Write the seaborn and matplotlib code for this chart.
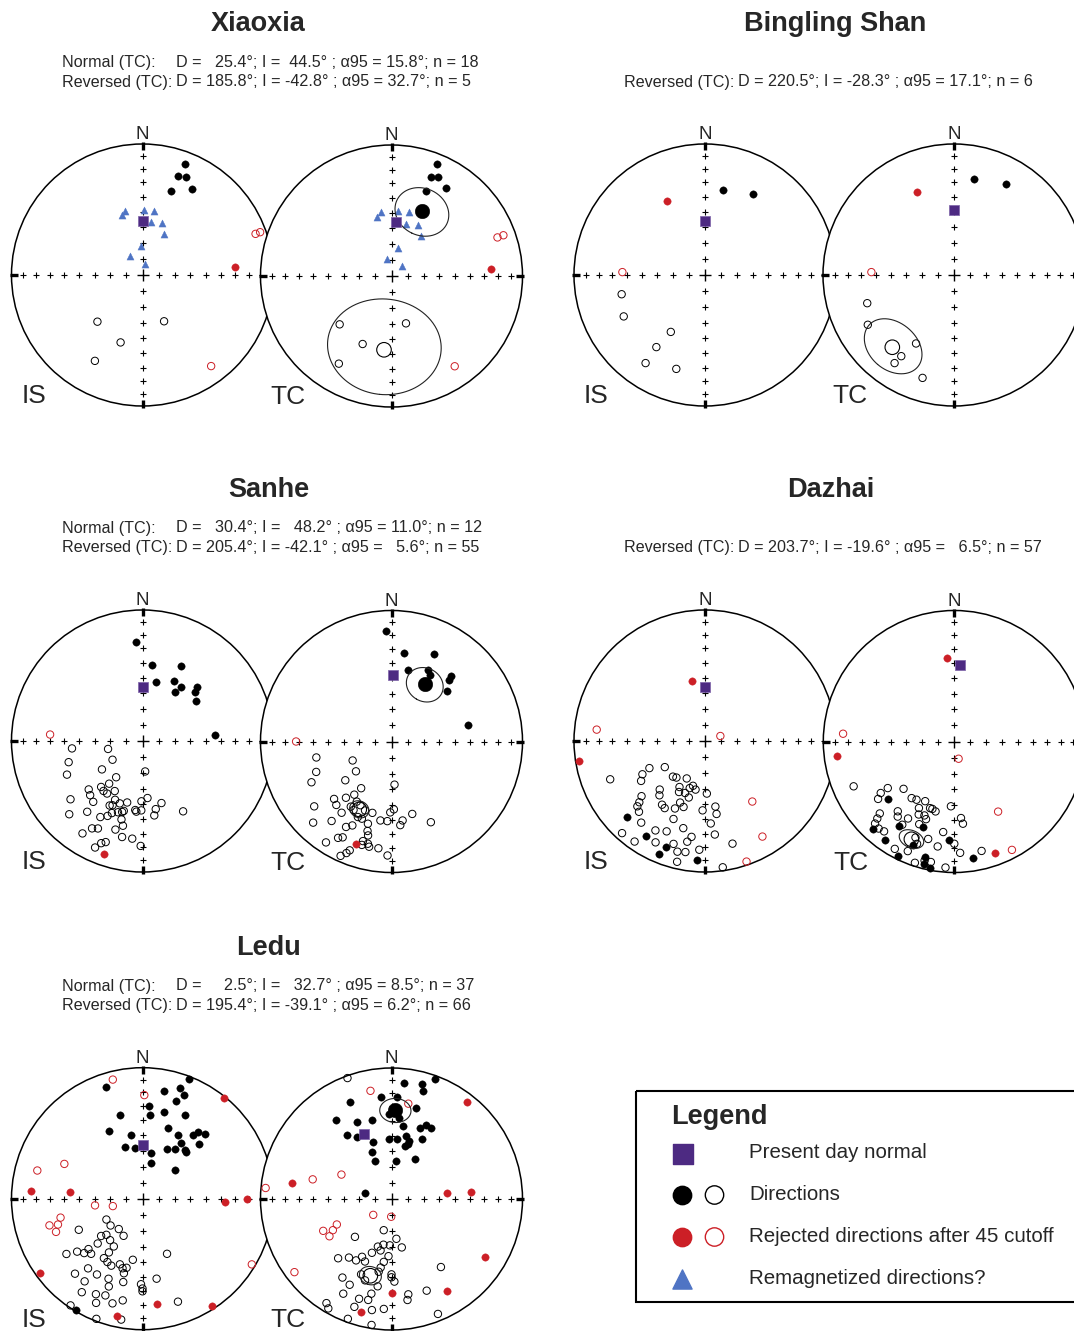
import numpy as np
import pandas as pd
import matplotlib
matplotlib.use("Agg")
import matplotlib.pyplot as plt
from matplotlib.patches import Circle, Rectangle
import seaborn as sns

# + ≡≡≡ directions as (declination, inclination) in degrees
# + ≡≡≡ negative inclination = upper hemisphere (open symbol)

present_is = (0, 56)

xiaoxia_is_dirs = [(21, 10), (20, 21), (24, 19), (19, 33), (30, 25),
                   (224, -49), (155, -58), (198, -45), (209, -26)]
xiaoxia_is_rejected = [(85, 30), (70, -9), (70, -5), (143, -14)]
xiaoxia_is_remag = [(345, 48), (341, 50), (1, 49), (10, 49), (9, 56),
                    (21, 55), (28, 61), (357, 72), (326, 76), (14, 83)]
xiaoxia_tc_dirs = [(22, 9), (22, 20), (25, 18), (22, 31), (32, 22),
                   (227, -45), (163, -59), (203, -43), (211, -23)]
xiaoxia_tc_rejected = [(86, 25), (70, -15), (70, -10), (145, -17)]
xiaoxia_tc_remag = [(351, 49), (346, 52), (6, 49), (15, 48), (15, 56),
                    (28, 54), (36, 59), (12, 72), (345, 79), (47, 81)]
xiaoxia_tc_present = (5, 56)
xiaoxia_normal = (25.4, 44.5, 15.8)
xiaoxia_reversed = (185.8, -42.8, 32.7)

bingling_is_dirs = [(12, 34), (31, 29), (257, -35), (243, -31), (211, -48),
                    (214, -34), (214, -20), (197, -26)]
bingling_is_rejected = [(333, 37), (272, -37)]
bingling_tc_dirs = [(12, 26), (30, 21), (252, -31), (240, -25), (209, -40),
                    (213, -27), (214, -20), (197, -19)]
bingling_tc_rejected = [(336, 31), (272, -37)]
bingling_tc_present = (0, 49)
bingling_reversed = (220.5, -28.3, 17.1)

sanhe_is_dirs = [(356, 25), (7, 41), (27, 36), (13, 52), (28, 47), (35, 48),
                 (33, 53), (45, 41), (47, 44), (53, 48), (85, 44),
                 (264, -45), (257, -68), (254, -41), (238, -68), (246, -37),
                 (235, -59), (175, -71), (216, -62), (218, -56), (228, -44),
                 (222, -51), (218, -50), (209, -54), (224, -42), (214, -50),
                 (231, -30), (219, -40), (205, -49), (207, -44), (200, -48),
                 (194, -50), (205, -45), (196, -43), (195, -44), (186, -46),
                 (185, -45), (181, -52), (175, -54), (163, -49), (169, -46),
                 (171, -42), (181, -46), (150, -38), (225, -22), (218, -32),
                 (209, -34), (205, -37), (195, -38), (193, -34), (197, -30),
                 (210, -24), (207, -26), (213, -17), (192, -26), (186, -26),
                 (200, -19), (202, -17), (204, -12), (181, -21), (203, -40),
                 (199, -42)]
sanhe_is_rejected = [(274, -30), (199, 10)]
sanhe_tc_dirs = [(357, 17), (8, 32), (26, 27), (13, 43), (27, 39), (30, 41),
                 (42, 33), (43, 36), (48, 42), (78, 40),
                 (258, -41), (244, -63), (248, -38), (230, -61), (243, -32),
                 (230, -52), (176, -63), (213, -55), (215, -49), (225, -38),
                 (219, -44), (221, -36), (210, -46), (230, -24), (215, -34),
                 (212, -41), (201, -43), (204, -37), (195, -43), (201, -37),
                 (196, -35), (224, -15), (217, -25), (208, -27), (205, -30),
                 (195, -30), (188, -39), (183, -39), (181, -45), (178, -47),
                 (172, -39), (174, -36), (164, -42), (154, -32), (213, -9),
                 (209, -17), (207, -19), (194, -27), (196, -22), (196, -19),
                 (192, -19), (187, -19), (201, -12), (202, -9), (204, -5),
                 (182, -14), (193, -21), (206, -45), (209, -40)]
sanhe_tc_rejected = [(270, -28), (199, 18)]
sanhe_tc_present = (1, 48)
sanhe_normal = (30.4, 48.2, 11.0)
sanhe_reversed = (205.4, -42.1, 5.6)

dazhai_is_dirs = [(226, 18), (212, 16), (200, 15), (202, 8), (184, 10),
                  (248, -23), (242, -45), (244, -51), (237, -60), (238, -42),
                  (222, -60), (218, -61), (206, -64), (209, -57), (198, -59),
                  (195, -61), (191, -59), (223, -48), (220, -45), (229, -36),
                  (227, -32), (226, -29), (207, -54), (201, -55), (196, -53),
                  (178, -57), (214, -41), (211, -40), (202, -48), (204, -43),
                  (198, -46), (223, -27), (182, -46), (171, -48), (171, -43),
                  (202, -36), (218, -22), (176, -37), (222, -6), (209, -23),
                  (203, -26), (194, -32), (188, -27), (174, -29), (215, -7),
                  (206, -15), (197, -19), (190, -23), (183, -18), (165, -20),
                  (194, -14), (190, -15), (193, -6), (172, -3)]
dazhai_is_rejected = [(348, 51), (261, 3), (276, -18), (72, -80), (142, -41),
                      (149, -16), (161, -3)]
dazhai_tc_dirs = [(229, 33), (223, 10), (213, 24), (200, 31), (215, 9),
                  (202, 16), (206, 3), (194, 10), (194, 4), (191, 2),
                  (183, 26), (171, 11),
                  (246, -17), (235, -32), (235, -38), (227, -46), (233, -28),
                  (217, -45), (213, -46), (206, -48), (226, -22), (219, -32),
                  (217, -29), (208, -42), (206, -38), (200, -45), (198, -45),
                  (195, -44), (202, -39), (200, -37), (211, -32), (183, -49),
                  (175, -41), (174, -37), (225, -18), (224, -14), (218, -14),
                  (221, -13), (212, -26), (203, -32), (195, -24), (202, -22),
                  (200, -18), (187, -31), (189, -20), (180, -23), (177, -16),
                  (166, -15), (209, -7), (203, -10), (198, -3), (194, -7),
                  (191, -7), (184, -4)]
dazhai_tc_rejected = [(355, 36), (263, 11), (160, 10), (274, -16), (166, -79),
                      (148, -37), (152, -7)]
dazhai_tc_present = (4, 41)
dazhai_reversed = (203.7, -19.6, 6.5)

ledu_is_dirs = [(342, 11), (21, 2), (11, 17), (19, 12), (22, 16), (19, 22),
                (4, 30), (5, 36), (14, 32), (345, 34), (27, 29), (20, 42),
                (29, 44), (38, 38), (40, 34), (44, 32), (334, 42), (350, 49),
                (341, 56), (351, 58), (10, 61), (13, 67), (26, 55), (33, 53),
                (35, 47), (41, 49), (43, 50), (46, 40), (49, 63), (211, 1),
                (240, -64), (230, -64), (218, -66), (244, -45), (228, -55),
                (225, -58), (207, -64), (218, -57), (225, -50), (211, -55),
                (227, -43), (231, -36), (227, -39), (223, -42), (234, -29),
                (212, -50), (213, -45), (209, -44), (189, -51), (205, -43),
                (199, -46), (196, -44), (193, -45), (194, -41), (156, -52),
                (218, -33), (211, -33), (222, -24), (215, -24), (203, -34),
                (201, -29), (193, -35), (181, -35), (180, -32), (170, -38),
                (213, -16), (206, -20), (201, -22), (196, -18), (191, -22),
                (204, -14), (214, -2), (201, -2), (190, -7), (161, -18),
                (180, -30)]
ledu_is_rejected = [(39, 1), (274, 16), (275, 44), (92, 37), (90, 21), (234, 4),
                    (172, 20), (147, 3), (192, 9),
                    (346, -7), (1, -22), (285, -18), (294, -35), (262, -60),
                    (256, -71), (257, -36), (253, -33), (254, -27), (249, -30),
                    (121, -3)]
ledu_tc_dirs = [(20, 3), (6, 12), (15, 10), (16, 15), (354, 23), (3, 23),
                (337, 21), (15, 29), (325, 27), (346, 38), (336, 36), (9, 43),
                (22, 41), (25, 38), (29, 38), (325, 40), (331, 45), (342, 52),
                (358, 52), (5, 52), (13, 49), (17, 52), (17, 54), (14, 56),
                (27, 47), (337, 58), (336, 64), (6, 66), (31, 61), (282, 73),
                (358, 35), (5, 38),
                (340, -2), (194, -70), (224, -57), (173, -65), (190, -61),
                (168, -59), (182, -61), (196, -59), (200, -54), (192, -57),
                (183, -54), (222, -39), (216, -44), (210, -45), (207, -49),
                (203, -47), (187, -50), (189, -46), (190, -43), (202, -38),
                (180, -42), (212, -30), (206, -28), (180, -40), (178, -37),
                (189, -33), (192, -27), (170, -27), (159, -26), (144, -36),
                (207, -20), (198, -21), (193, -22), (171, -23), (212, -7),
                (210, -4), (199, -14), (190, -15), (184, -17), (200, -3),
                (189, -3), (158, -6), (198, -35)]
ledu_tc_rejected = [(38, 7), (279, 24), (84, 55), (85, 39), (122, 17), (149, 19),
                    (180, 29), (195, 12),
                    (349, -17), (10, -27), (275, -4), (284, -38), (296, -55),
                    (229, -75), (181, -79), (245, -52), (242, -48), (239, -44),
                    (245, -42), (233, -8)]
ledu_tc_present = (337, 45)
ledu_normal = (2.5, 32.7, 8.5)
ledu_reversed = (195.4, -39.1, 6.2)

# + ≡≡≡ style
sns.set_style("white")
plt.rcParams["font.family"] = ["Liberation Sans", "DejaVu Sans"]

RED = "#cc1f26"
BLUE = "#4f74c4"
PURPLE = "#4d2a82"
W, H = 1074, 1331
R = 131          # net radius in pixels
L = 1.12         # half width of a net axes, in net radii

fig = plt.figure(figsize=(W / 100, H / 100), dpi=100)
ax0 = fig.add_axes([0, 0, 1, 1])
ax0.set_xlim(0, W)
ax0.set_ylim(H, 0)
ax0.set_axis_off()


def project(dec, inc):
    # Lambert equal area, both hemispheres on the same net
    dec = np.radians(np.asarray(dec, float))
    inc = np.radians(np.abs(np.asarray(inc, float)))
    r = np.sqrt(2) * np.sin((np.pi / 2 - inc) / 2)
    return r * np.sin(dec), r * np.cos(dec)


def cone(dec, inc, a95, n=241):
    d, i, a = np.radians([dec, inc, a95])
    m = np.array([np.cos(i) * np.cos(d), np.cos(i) * np.sin(d), np.sin(i)])
    u = np.array([-np.sin(i) * np.cos(d), -np.sin(i) * np.sin(d), np.cos(i)])
    v = np.cross(m, u)
    t = np.linspace(0, 2 * np.pi, n)
    p = np.cos(a) * m[:, None] + np.sin(a) * (np.cos(t) * u[:, None] + np.sin(t) * v[:, None])
    cdec = np.degrees(np.arctan2(p[1], p[0]))
    cinc = np.degrees(np.arcsin(np.clip(p[2], -1, 1)))
    return cdec, cinc


def scatter_dirs(ax, pairs, color, marker="o", s=28, lw=0.7, zorder=4):
    df = pd.DataFrame(pairs, columns=["dec", "inc"])
    df["x"], df["y"] = project(df["dec"], df["inc"])
    lower = df[df["inc"] >= 0]
    upper = df[df["inc"] < 0]
    if len(lower):
        sns.scatterplot(data=lower, x="x", y="y", ax=ax, color=color, edgecolor=color,
                        marker=marker, s=s, linewidth=0.3, legend=False, zorder=zorder)
    if len(upper):
        sns.scatterplot(data=upper, x="x", y="y", ax=ax, facecolor="none", edgecolor=color,
                        marker=marker, s=s, linewidth=lw, legend=False, zorder=zorder)


def net(cx, cy, label):
    half = L * R
    ax = fig.add_axes([(cx - half) / W, 1 - (cy + half) / H, 2 * half / W, 2 * half / H])
    ax.add_patch(Circle((0, 0), 1, facecolor="white", edgecolor="black", lw=1.1, zorder=0.5))
    ticks = np.arange(10, 90, 10)
    for az in (0, 90, 180, 270):
        tx, ty = project(np.full(len(ticks), az), ticks)
        ax.plot(tx, ty, ls="none", marker="+", ms=3.8, mew=0.8, color="black", zorder=1)
        bx, by = np.sin(np.radians(az)), np.cos(np.radians(az))
        ax.plot([0.952 * bx, 1.012 * bx], [0.952 * by, 1.012 * by], color="black",
                lw=2.4, solid_capstyle="butt", zorder=2)
    ax.plot([0], [0], marker="+", ms=8.5, mew=1.0, color="black", zorder=1)
    ax.text(0, 1.035, "N", ha="center", va="baseline", fontsize=13.5)
    ax.text(-0.925, -0.98, label, ha="left", va="baseline", fontsize=19)
    return ax


def finish(ax, present):
    px, py = project([present[0]], [present[1]])
    ax.scatter(px, py, marker="s", s=60, color=PURPLE, edgecolor="#7d62a8",
               linewidth=0.5, zorder=8)
    ax.set_xlim(-L, L)
    ax.set_ylim(-L, L)
    ax.set_axis_off()


def mean_dir(ax, mean):
    cdec, cinc = cone(*mean)
    ex, ey = project(cdec, cinc)
    ax.plot(ex, ey, color="#222222", lw=0.8, zorder=6)
    scatter_dirs(ax, [mean[:2]], "black", s=110, lw=0.8, zorder=7)


def panel(cx, cy, label, dirs, rejected, remag, present, means):
    ax = net(cx, cy, label)
    scatter_dirs(ax, dirs, "black")
    scatter_dirs(ax, rejected, RED)
    if remag:
        scatter_dirs(ax, remag, BLUE, marker="^", s=26)
    for m in means:
        mean_dir(ax, m)
    finish(ax, present)


# + ≡≡≡ nets: in situ (IS) left, tilt corrected (TC) right
panel(142.5, 275, "IS", xiaoxia_is_dirs, xiaoxia_is_rejected, xiaoxia_is_remag, present_is, [])
panel(391.5, 276, "TC", xiaoxia_tc_dirs, xiaoxia_tc_rejected, xiaoxia_tc_remag,
      xiaoxia_tc_present, [xiaoxia_normal, xiaoxia_reversed])
panel(705, 275, "IS", bingling_is_dirs, bingling_is_rejected, [], present_is, [])
panel(954, 275, "TC", bingling_tc_dirs, bingling_tc_rejected, [], bingling_tc_present,
      [bingling_reversed])
panel(142.5, 741, "IS", sanhe_is_dirs, sanhe_is_rejected, [], present_is, [])
panel(391.5, 741.5, "TC", sanhe_tc_dirs, sanhe_tc_rejected, [], sanhe_tc_present,
      [sanhe_normal, sanhe_reversed])
panel(705, 741, "IS", dazhai_is_dirs, dazhai_is_rejected, [], present_is, [])
panel(954.3, 741.5, "TC", dazhai_tc_dirs, dazhai_tc_rejected, [], dazhai_tc_present,
      [dazhai_reversed])
panel(142.5, 1198.7, "IS", ledu_is_dirs, ledu_is_rejected, [], present_is, [])
panel(391.5, 1199, "TC", ledu_tc_dirs, ledu_tc_rejected, [], ledu_tc_present,
      [ledu_normal, ledu_reversed])

# + ≡≡≡ titles and statistics
TITLE_FS = 19.5
STAT_FS = 11.6
titles = [("Xiaoxia", 258, 31), ("Bingling Shan", 835, 31), ("Sanhe", 269, 497),
          ("Dazhai", 831, 497), ("Ledu", 269, 955)]
for name, x, y in titles:
    ax0.text(x, y, name, ha="center", va="baseline", fontsize=TITLE_FS, fontweight="bold")

stats = [
    (62, 67, "Normal (TC):", "D =   25.4°; I =  44.5° ; α95 = 15.8°; n = 18"),
    (62, 86.5, "Reversed (TC):", "D = 185.8°; I = -42.8° ; α95 = 32.7°; n = 5"),
    (624, 86.5, "Reversed (TC):", "D = 220.5°; I = -28.3° ; α95 = 17.1°; n = 6"),
    (62, 532.5, "Normal (TC):", "D =   30.4°; I =   48.2° ; α95 = 11.0°; n = 12"),
    (62, 552, "Reversed (TC):", "D = 205.4°; I = -42.1° ; α95 =   5.6°; n = 55"),
    (624, 552, "Reversed (TC):", "D = 203.7°; I = -19.6° ; α95 =   6.5°; n = 57"),
    (62, 990.5, "Normal (TC):", "D =     2.5°; I =   32.7° ; α95 = 8.5°; n = 37"),
    (62, 1010, "Reversed (TC):", "D = 195.4°; I = -39.1° ; α95 = 6.2°; n = 66"),
]
for x, y, lab, body in stats:
    ax0.text(x, y, lab, ha="left", va="baseline", fontsize=STAT_FS)
    ax0.text(x + 114, y, body, ha="left", va="baseline", fontsize=STAT_FS)

# + ≡≡≡ legend box
ax0.add_patch(Rectangle((636, 1091), 470, 211, fill=False, edgecolor="black",
                        lw=1.5, clip_on=False))
ax0.text(671, 1124, "Legend", ha="left", va="baseline", fontsize=19.5, fontweight="bold")
ax0.scatter([682.5], [1154], marker="s", s=215, color=PURPLE)
ax0.scatter([681.5], [1195], marker="o", s=175, color="black")
ax0.scatter([714.5], [1195], marker="o", s=175, facecolor="none", edgecolor="black", linewidth=1.0)
ax0.scatter([681.5], [1237], marker="o", s=175, color=RED)
ax0.scatter([714.5], [1237], marker="o", s=175, facecolor="none", edgecolor=RED, linewidth=1.0)
ax0.scatter([681.5], [1279], marker="^", s=190, color=BLUE)
entries = [("Present day normal", 1153), ("Directions", 1195),
           ("Rejected directions after 45 cutoff", 1237), ("Remagnetized directions?", 1278)]
for txt, y in entries:
    ax0.text(749, y, txt, ha="left", va="center", fontsize=14.8)

fig.savefig("out.png", dpi=100)
